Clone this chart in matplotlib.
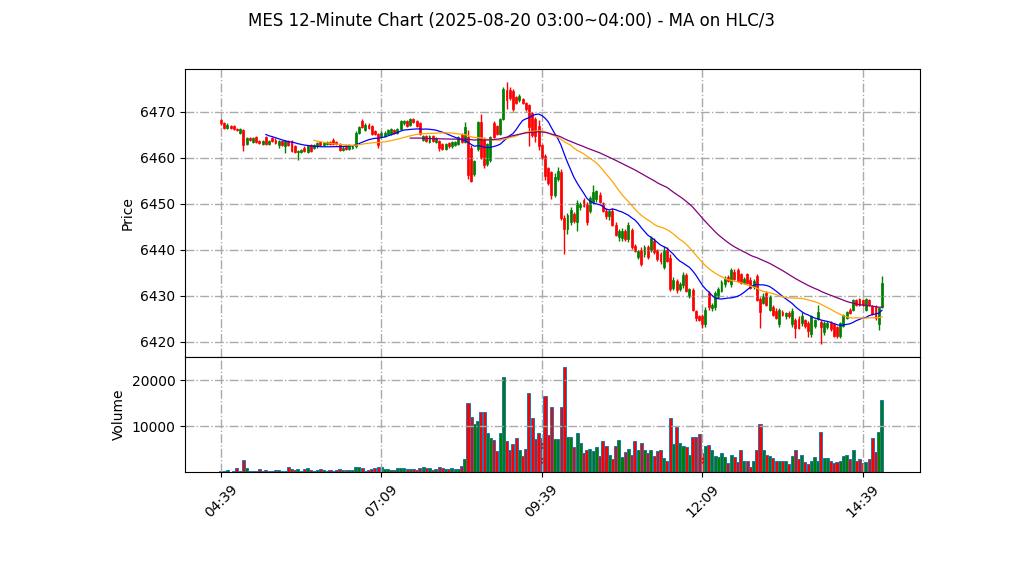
import matplotlib
matplotlib.use("Agg")
import matplotlib.pyplot as plt
import numpy as np
import pandas as pd

# 3-minute bars, first one at 04:39
start_time = "2025-08-20 04:39"

opens = [
    6468.25, 6467.5, 6466.5, 6467.0, 6467.0, 6466.25, 6465.5, 6466.0, 6463.0, 6464.25,
    6463.5, 6464.5, 6463.75, 6463.0, 6464.5, 6463.0, 6464.25, 6464.0, 6462.75, 6463.75,
    6462.5, 6463.75, 6463.75, 6462.5, 6461.25, 6461.25, 6462.25, 6461.25, 6462.75, 6462.25,
    6462.5, 6463.5, 6462.75, 6463.0, 6463.5, 6464.0, 6463.5, 6463.0, 6461.75, 6462.5,
    6462.0, 6462.25, 6462.5, 6465.5, 6468.0, 6466.0, 6467.25, 6467.0, 6465.75, 6465.25,
    6464.5, 6464.75, 6465.25, 6465.25, 6466.0, 6465.5, 6466.25, 6467.5, 6468.0, 6467.25,
    6468.5, 6468.0, 6467.5, 6464.0, 6464.75, 6463.5, 6464.75, 6463.5, 6463.75, 6463.0,
    6462.0, 6463.25, 6462.5, 6462.75, 6463.0, 6465.25, 6463.5, 6464.5, 6462.25, 6456.5,
    6462.0, 6467.75, 6464.0, 6458.75, 6459.5, 6467.5, 6467.0, 6465.25, 6468.5, 6474.75,
    6474.75, 6474.5, 6473.25, 6472.5, 6472.75, 6472.0, 6471.5, 6469.75, 6468.5, 6467.0,
    6462.75, 6460.5, 6457.75, 6457.0, 6452.0, 6455.5, 6457.0, 6447.0, 6444.5, 6446.0,
    6447.75, 6446.0, 6449.25, 6450.75, 6450.0, 6448.5, 6450.5, 6451.0, 6452.0, 6450.25,
    6448.5, 6447.25, 6448.5, 6445.5, 6442.75, 6442.5, 6444.0, 6442.25, 6444.25, 6440.75,
    6438.5, 6440.0, 6439.0, 6440.5, 6440.0, 6442.0, 6440.0, 6439.0, 6436.25, 6440.0,
    6438.25, 6431.75, 6433.25, 6431.5, 6432.25, 6434.5, 6430.0, 6431.25, 6426.75, 6425.5,
    6425.5, 6423.75, 6430.5, 6427.25, 6427.5, 6429.75, 6431.0, 6432.5, 6434.0, 6432.5,
    6435.25, 6435.5, 6434.75, 6432.75, 6434.75, 6433.5, 6432.0, 6434.25, 6429.25, 6428.5,
    6430.5, 6427.0, 6427.5, 6426.75, 6423.75, 6426.5, 6425.5, 6426.25, 6423.75, 6424.75,
    6425.0, 6424.0, 6424.75, 6424.0, 6421.75, 6423.5, 6425.0, 6424.25, 6422.0, 6423.25,
    6424.0, 6423.75, 6423.25, 6421.25, 6423.5, 6425.25, 6427.0, 6427.0, 6429.0, 6429.25,
    6429.0, 6427.0, 6429.0, 6427.75, 6427.75, 6423.75, 6427.5,
]
highs = [
    6468.5, 6467.75, 6467.5, 6467.25, 6467.25, 6466.5, 6466.5, 6466.25, 6464.5, 6464.5,
    6464.5, 6464.75, 6464.0, 6464.0, 6464.75, 6464.0, 6464.5, 6464.25, 6464.0, 6464.0,
    6464.0, 6464.0, 6464.0, 6462.75, 6461.75, 6462.0, 6462.5, 6462.75, 6463.0, 6463.0,
    6463.5, 6463.75, 6463.5, 6463.75, 6463.75, 6464.25, 6463.75, 6463.25, 6462.5, 6462.75,
    6463.0, 6462.75, 6465.75, 6467.0, 6468.5, 6467.5, 6467.5, 6467.25, 6466.0, 6465.5,
    6465.75, 6465.75, 6466.25, 6466.5, 6466.25, 6466.5, 6468.25, 6468.25, 6468.25, 6468.75,
    6468.75, 6468.25, 6467.75, 6465.0, 6465.0, 6465.0, 6465.0, 6464.5, 6464.0, 6463.25,
    6463.25, 6463.5, 6463.75, 6463.75, 6464.75, 6465.5, 6467.75, 6466.0, 6462.75, 6459.5,
    6468.0, 6469.5, 6464.5, 6463.25, 6464.75, 6468.0, 6467.25, 6468.75, 6475.5, 6476.5,
    6475.5, 6475.0, 6473.5, 6474.0, 6473.0, 6472.25, 6471.75, 6470.0, 6469.0, 6468.25,
    6463.0, 6460.75, 6458.0, 6457.25, 6456.75, 6458.0, 6457.5, 6447.5, 6448.0, 6449.25,
    6448.25, 6450.75, 6450.5, 6451.25, 6450.5, 6451.75, 6454.0, 6453.0, 6452.5, 6450.5,
    6449.0, 6448.75, 6449.0, 6446.0, 6444.5, 6444.75, 6444.5, 6446.0, 6444.75, 6441.25,
    6440.0, 6440.5, 6441.0, 6441.0, 6443.0, 6442.5, 6440.25, 6439.5, 6440.75, 6440.5,
    6439.0, 6434.0, 6433.75, 6433.0, 6435.25, 6435.0, 6431.75, 6431.75, 6427.0, 6425.75,
    6426.0, 6427.5, 6431.0, 6428.5, 6431.0, 6432.0, 6433.5, 6434.25, 6434.5, 6436.0,
    6435.75, 6436.0, 6435.0, 6434.0, 6435.0, 6434.0, 6433.75, 6434.75, 6429.75, 6430.5,
    6431.0, 6430.25, 6428.0, 6427.25, 6427.25, 6427.0, 6426.5, 6426.75, 6427.25, 6425.25,
    6425.5, 6426.5, 6425.0, 6424.5, 6425.75, 6425.0, 6428.0, 6424.75, 6424.5, 6424.5,
    6424.5, 6424.0, 6423.5, 6424.25, 6426.0, 6426.75, 6427.25, 6429.25, 6429.25, 6429.5,
    6429.25, 6429.5, 6429.25, 6428.0, 6428.0, 6427.5, 6434.25,
]
lows = [
    6467.25, 6466.25, 6466.25, 6466.25, 6466.0, 6465.75, 6465.25, 6461.5, 6462.75, 6463.75,
    6463.25, 6463.25, 6463.0, 6462.75, 6462.75, 6462.75, 6463.5, 6463.0, 6462.25, 6462.5,
    6461.0, 6462.5, 6461.25, 6461.0, 6459.5, 6461.0, 6461.25, 6461.0, 6461.25, 6462.0,
    6462.25, 6462.5, 6462.5, 6462.75, 6462.75, 6462.75, 6462.75, 6461.5, 6461.5, 6461.75,
    6461.75, 6462.0, 6462.25, 6465.25, 6466.5, 6465.75, 6466.25, 6465.0, 6465.0, 6462.25,
    6464.25, 6464.5, 6465.0, 6465.0, 6465.25, 6465.25, 6466.0, 6467.25, 6466.75, 6467.0,
    6467.5, 6466.75, 6465.0, 6463.75, 6463.5, 6463.25, 6463.5, 6463.25, 6461.5, 6461.75,
    6461.75, 6462.25, 6462.25, 6462.5, 6462.75, 6463.25, 6463.25, 6455.5, 6454.75, 6456.0,
    6461.5, 6459.75, 6457.75, 6458.25, 6459.0, 6464.25, 6465.0, 6465.0, 6468.25, 6470.75,
    6472.5, 6470.25, 6471.75, 6472.25, 6471.75, 6470.25, 6462.5, 6464.5, 6463.5, 6461.75,
    6459.75, 6455.25, 6454.0, 6451.0, 6451.5, 6455.0, 6446.5, 6439.0, 6443.5, 6445.5,
    6445.75, 6444.0, 6448.75, 6449.25, 6445.5, 6448.0, 6450.0, 6450.5, 6450.25, 6448.25,
    6446.75, 6446.5, 6445.25, 6443.0, 6442.0, 6442.0, 6442.0, 6441.75, 6440.25, 6439.5,
    6438.0, 6436.5, 6438.5, 6438.0, 6439.5, 6439.0, 6437.5, 6437.0, 6435.75, 6437.25,
    6431.0, 6431.25, 6430.5, 6431.0, 6431.75, 6430.75, 6429.5, 6426.75, 6424.5, 6424.5,
    6423.0, 6423.25, 6427.0, 6426.75, 6427.0, 6429.5, 6430.75, 6432.0, 6433.0, 6432.0,
    6433.5, 6433.0, 6432.5, 6432.5, 6432.5, 6431.5, 6431.5, 6428.75, 6423.0, 6428.25,
    6427.75, 6426.75, 6425.5, 6425.0, 6423.25, 6425.5, 6425.0, 6425.25, 6423.25, 6420.75,
    6422.75, 6423.5, 6423.0, 6421.0, 6421.0, 6423.0, 6424.75, 6419.5, 6421.5, 6422.75,
    6422.25, 6421.0, 6420.75, 6420.75, 6423.25, 6425.0, 6426.0, 6426.75, 6427.75, 6427.75,
    6427.75, 6426.75, 6427.75, 6425.75, 6424.75, 6422.5, 6427.25,
]
closes = [
    6467.5, 6466.5, 6467.25, 6466.5, 6466.25, 6466.0, 6466.25, 6462.75, 6464.25, 6464.0,
    6464.25, 6463.5, 6463.25, 6463.75, 6463.0, 6463.75, 6463.75, 6463.25, 6463.75, 6462.75,
    6463.75, 6462.75, 6461.5, 6461.25, 6461.5, 6461.75, 6461.5, 6462.5, 6461.5, 6462.75,
    6463.25, 6462.75, 6463.25, 6463.5, 6463.0, 6463.0, 6463.0, 6461.75, 6462.25, 6462.0,
    6462.75, 6462.5, 6465.5, 6466.75, 6466.75, 6467.25, 6466.5, 6465.25, 6465.25, 6462.75,
    6465.5, 6465.5, 6466.0, 6466.25, 6465.5, 6466.25, 6468.0, 6468.0, 6467.0, 6468.5,
    6467.75, 6467.0, 6465.25, 6464.75, 6463.75, 6464.75, 6463.75, 6464.25, 6462.25, 6462.0,
    6463.0, 6462.5, 6463.5, 6463.5, 6464.5, 6463.5, 6466.75, 6456.25, 6455.0, 6459.25,
    6467.75, 6460.25, 6458.5, 6463.0, 6464.5, 6464.5, 6465.25, 6468.5, 6475.0, 6472.5,
    6473.0, 6470.75, 6472.0, 6473.5, 6472.0, 6470.75, 6466.75, 6465.0, 6464.75, 6462.5,
    6460.0, 6456.0, 6454.5, 6452.0, 6455.75, 6457.25, 6447.0, 6444.5, 6447.5, 6448.75,
    6446.25, 6450.25, 6450.0, 6449.5, 6446.0, 6451.25, 6452.5, 6452.75, 6450.5, 6448.5,
    6447.25, 6448.5, 6445.5, 6443.25, 6444.0, 6444.0, 6442.25, 6445.5, 6440.5, 6439.75,
    6439.75, 6437.0, 6440.5, 6438.5, 6442.5, 6439.5, 6438.0, 6437.5, 6440.0, 6437.5,
    6431.5, 6433.5, 6431.25, 6432.5, 6434.5, 6431.0, 6431.5, 6427.0, 6425.25, 6424.75,
    6423.75, 6427.0, 6427.5, 6428.0, 6430.5, 6431.5, 6433.0, 6433.75, 6433.25, 6435.5,
    6433.75, 6433.25, 6432.75, 6433.75, 6432.75, 6431.75, 6433.25, 6429.0, 6426.5, 6430.0,
    6428.0, 6429.75, 6425.75, 6425.25, 6427.0, 6425.75, 6426.25, 6425.5, 6426.75, 6423.0,
    6423.0, 6425.5, 6423.5, 6422.25, 6425.5, 6424.75, 6426.5, 6423.25, 6424.0, 6424.0,
    6422.75, 6421.25, 6421.25, 6424.0, 6425.75, 6426.5, 6426.25, 6429.0, 6428.0, 6428.0,
    6428.0, 6429.25, 6428.0, 6426.0, 6425.25, 6427.25, 6432.75,
]
volumes = [
    200, 150, 400, 100, 200, 800, 200, 2600, 800, 150,
    150, 150, 600, 150, 400, 150, 150, 400, 400, 150,
    150, 1200, 600, 400, 600, 150, 600, 800, 400, 150,
    400, 600, 400, 150, 400, 150, 400, 600, 400, 400,
    400, 400, 1200, 1000, 800, 150, 400, 600, 800, 1100,
    1000, 600, 600, 400, 400, 800, 800, 800, 600, 600,
    600, 400, 800, 1000, 800, 800, 400, 700, 1000, 800,
    600, 600, 800, 600, 600, 1300, 2800, 15100, 11900, 10400,
    11200, 13000, 13000, 8400, 7300, 6900, 4500, 8600, 20600, 6700,
    4900, 6000, 7500, 4900, 3600, 5100, 17100, 11700, 7100, 8400,
    7300, 16500, 8000, 14200, 7100, 7100, 14200, 22800, 7700, 7700,
    5400, 8400, 6400, 4200, 4900, 5100, 4600, 5400, 3600, 6700,
    5600, 3800, 2900, 5600, 6900, 3300, 4300, 5100, 3800, 6700,
    4700, 6400, 4700, 4100, 4700, 3600, 4600, 4700, 3000, 2500,
    11700, 6200, 9800, 6400, 5700, 5400, 3800, 7700, 7700, 8200,
    4100, 5600, 5800, 4700, 3600, 3200, 4100, 3200, 1900, 3800,
    3200, 2100, 4700, 2300, 2500, 1200, 2500, 4900, 10400, 4700,
    3800, 3600, 3000, 2300, 2500, 2500, 2500, 1700, 3600, 4700,
    2800, 3800, 2100, 1700, 2500, 3200, 2500, 8800, 3000, 3000,
    2500, 1900, 2100, 2300, 3400, 3800, 2800, 4900, 2500, 2800,
    1900, 2100, 2800, 7500, 4300, 8800, 15600,
]

ma_windows = [15, 30, 60]
ma_colors = ["blue", "orange", "purple"]

o = np.array(opens)
h = np.array(highs)
l = np.array(lows)
c = np.array(closes)
x = np.arange(len(c))

times = pd.date_range(start_time, periods=len(c), freq="3min")
up = c >= o
colors = np.where(up, "green", "red")

fig = plt.figure(figsize=(10.22, 5.75), dpi=100)
ax = fig.add_axes([0.181, 0.379, 0.719, 0.501])
ax_v = fig.add_axes([0.181, 0.179, 0.719, 0.2], sharex=ax)

# candles
ax.vlines(x, l, h, colors=colors, linewidth=1)
ax.bar(x, np.abs(c - o), bottom=np.minimum(o, c), width=0.6,
       color=colors, edgecolor=colors, linewidth=0.5)

# moving averages on hlc/3
hlc3 = pd.Series((h + l + c) / 3)
for w, col in zip(ma_windows, ma_colors):
    ax.plot(x, hlc3.rolling(w).mean(), color=col, linewidth=0.9)

ax.set_ylabel("Price")
ax.grid(True, linestyle="-.", color="#aaaaaa", linewidth=1)
ax.tick_params(axis="x", labelbottom=False)

# volume
ax_v.bar(x, volumes, width=0.95, color=colors, edgecolor="C0", linewidth=0.7)
ax_v.set_ylabel("Volume")
ax_v.set_yticks([10000, 20000])
ax_v.set_ylim(0, 25000)
ax_v.grid(True, linestyle="-.", color="#aaaaaa", linewidth=1)

ticks = x[::50]
ax_v.set_xticks(ticks)
ax_v.set_xticklabels([times[i].strftime("%H:%M") for i in ticks], rotation=45)
ax_v.set_xlim(-11.2, 217.8)

fig.suptitle("MES 12-Minute Chart (2025-08-20 03:00~04:00) - MA on HLC/3", fontsize=12)

fig.savefig("out.png", dpi=100)
